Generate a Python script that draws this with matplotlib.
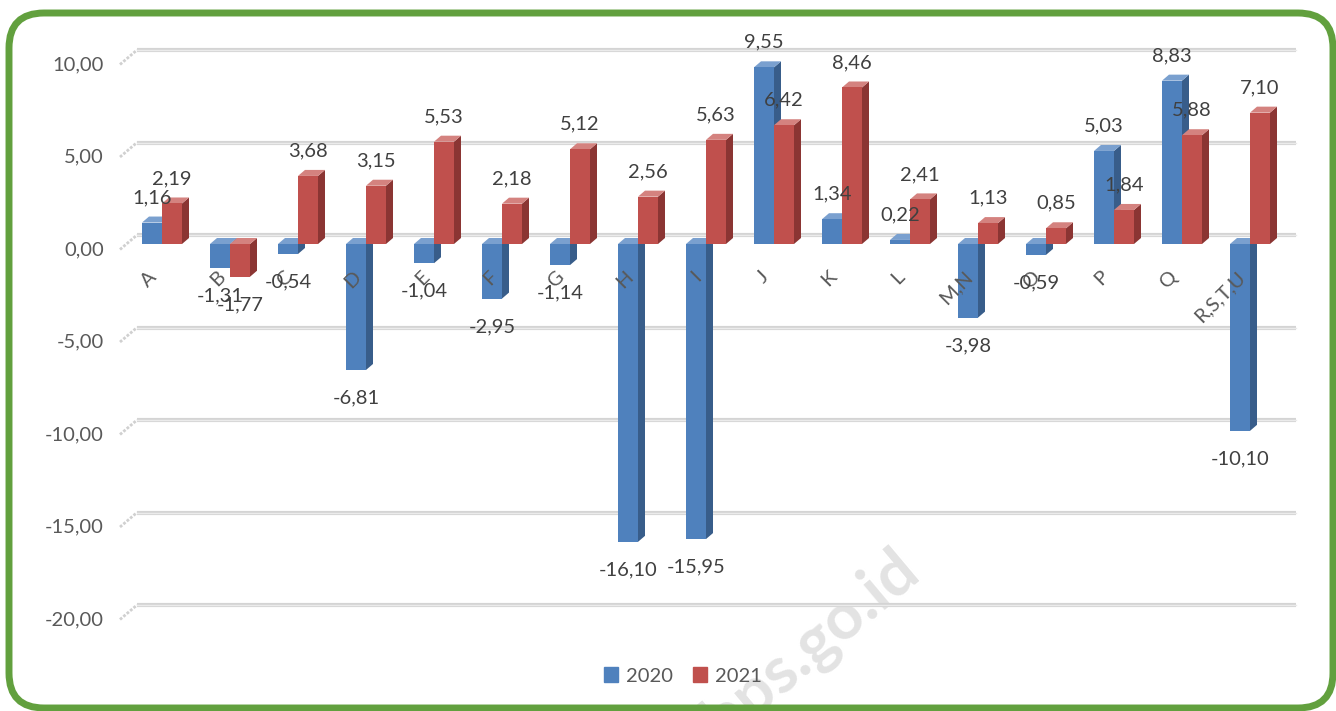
import matplotlib
matplotlib.use("Agg")
import matplotlib.pyplot as plt
from matplotlib.patches import Polygon, FancyBboxPatch, Patch
from matplotlib.transforms import IdentityTransform

plt.rcParams['font.family'] = ['Lato', 'DejaVu Sans']

# Daten
kategorien = ["A", "B", "C", "D", "E", "F", "G", "H", "I", "J", "K", "L",
              "M,N", "O", "P", "Q", "R,S,T,U"]
werte_2020 = [1.16, -1.31, -0.54, -6.81, -1.04, -2.95, -1.14, -16.10, -15.95,
              9.55, 1.34, 0.22, -3.98, -0.59, 5.03, 8.83, -10.10]
werte_2021 = [2.19, -1.77, 3.68, 3.15, 5.53, 2.18, 5.12, 2.56, 5.63,
              6.42, 8.46, 2.41, 1.13, 0.85, 1.84, 5.88, 7.10]
gitter = [10, 5, 0, -5, -10, -15, -20]
serien = ["2020", "2021"]

W, H = 1336, 711
fig = plt.figure(figsize=(W / 100, H / 100), dpi=100)

# Achse so legen, dass 1 Kategorie = 68 px, 1 Einheit = 18.5 px
px_x = 68.0
px_y = 18.5
x0_px = 162.0   # Kategorie A
y0_px = 244.0   # Nulllinie der Balken
ylo, yhi = -22, 11
top_px = y0_px - yhi * px_y
bot_px = y0_px - ylo * px_y
left_px = x0_px - px_x
right_px = x0_px + 17 * px_x
ax = fig.add_axes([left_px / W, (H - bot_px) / H,
                   (right_px - left_px) / W, (bot_px - top_px) / H])
ax.set_xlim(-1, 17)
ax.set_ylim(ylo, yhi)
ax.axis("off")

def dx(p):
    return p / px_x

def dy(p):
    return p / px_y

# Gitterlinien (Rückwand) + Verbinder
for g in gitter:
    yb = g + dy(9)
    yf = g - dy(5.5)
    ax.plot([dx(137 - x0_px), dx(1296 - x0_px)], [yb, yb], color="#d4d4d4",
            lw=3, zorder=1, solid_capstyle="butt", clip_on=False)
    ax.plot([dx(137 - x0_px), dx(1296 - x0_px)], [yb, yb], color="#ebebeb",
            lw=1, zorder=1.1, clip_on=False)
    ax.plot([dx(120 - x0_px), dx(137 - x0_px)], [yf, yb], color="#d0d0d0",
            lw=2, ls=(0, (1, 0.6)), zorder=1, clip_on=False)
    ax.text(dx(104 - x0_px), yf, f"{g:.2f}".replace(".", ","), ha="right",
            va="center", fontsize=14.5, color="#595959", clip_on=False)

# Wasserzeichen
ax.text(dx(812 - x0_px), (y0_px - 645) / px_y, "bps.go.id", rotation=40,
        ha="center", va="center", fontsize=47, fontweight="bold",
        color="#e3e3e3", zorder=0.5, clip_on=False)

farben = [("#4f81bd", "#385d8a", "#7aa0cf"), ("#c0504d", "#8b3533", "#d4827f")]
breite = 20 / px_x
tx, ty = dx(7), dy(6)

for i in range(len(kategorien)):
    for s, werte in enumerate([werte_2020, werte_2021]):
        v = werte[i]
        front, seite, oben = farben[s]
        xa = i - breite if s == 0 else i
        xb = xa + breite
        lo, hi = min(0, v), max(0, v)
        z = 2 + i * 0.1 + s * 0.05
        ax.add_patch(Polygon([(xb, lo), (xb + tx, lo + ty), (xb + tx, hi + ty), (xb, hi)],
                             closed=True, fc=seite, ec="none", zorder=z))
        ax.add_patch(Polygon([(xa, hi), (xa + tx, hi + ty), (xb + tx, hi + ty), (xb, hi)],
                             closed=True, fc=oben, ec="none", zorder=z))
        ax.bar(xa, hi - lo, bottom=lo, width=breite, align="edge", color=front,
               edgecolor="none", zorder=z + 0.01)
        off = 25 if v >= 0 else -28
        ax.annotate(f"{v:.2f}".replace(".", ","), xy=((xa + xb) / 2, v),
                    xytext=(0, off), textcoords="offset pixels", ha="center",
                    va="center", fontsize=14.5, color="#404040", zorder=10)
    ax.text(i - dx(2), dy(244 - 268), kategorien[i], rotation=45, ha="right",
            va="top", fontsize=14.5, color="#595959", zorder=9)

# Legende
handles = [Patch(color=farben[0][0]), Patch(color=farben[1][0])]
fig.legend(handles, serien, loc="center", bbox_to_anchor=(683 / W, 1 - 676 / H),
           ncol=2, frameon=False, fontsize=14.5, handlelength=0.7, handleheight=0.7,
           handletextpad=0.4, columnspacing=1.0, labelcolor="#595959")

# Rahmen
rahmen = FancyBboxPatch((9, 3), 1324, 695, boxstyle="round,pad=0,rounding_size=35",
                        transform=IdentityTransform(), fc="none", ec="#62a03e",
                        lw=5)
fig.add_artist(rahmen)

plt.savefig("out.png", dpi=100)
